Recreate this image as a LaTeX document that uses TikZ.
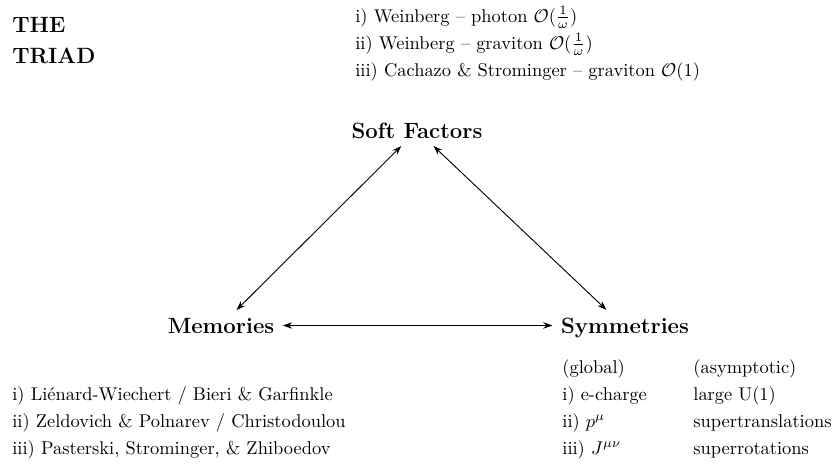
\documentclass[tikz,border=0pt]{standalone}
\usetikzlibrary{arrows.meta}
\begin{document}
\begin{tikzpicture}[x=0.5425pt,y=-0.5425pt,
  title/.style={font=\large\bfseries, inner sep=0pt, anchor=base west},
  vertex/.style={font=\large\bfseries, inner xsep=4.5pt, inner ysep=4pt, anchor=base},
  item/.style={inner sep=0pt, anchor=base west},
  link/.style={{Stealth[length=5pt,width=3.5pt]}-{Stealth[length=5pt,width=3.5pt]}, line width=0.5pt}]
\useasboundingbox (0,0) rectangle (832,463);
\node[title] (t1) at (12,32) {THE};
\node[title] (t2) at (12,63) {TRIAD};
\node[item] (s1) at (355,22) {i) Weinberg -- photon $\mathcal{O}(\frac{1}{\omega})$};
\node[item] (s2) at (355,49) {ii) Weinberg -- graviton $\mathcal{O}(\frac{1}{\omega})$};
\node[item] (s3) at (355,76) {iii) Cachazo \& Strominger -- graviton $\mathcal{O}(1)$};
\node[vertex] (sf) at (417,138) {Soft Factors};
\node[vertex] (mem) at (221,333) {Memories};
\node[vertex] (sym) at (625,333) {Symmetries};
\draw[link] (sf) -- (mem);
\draw[link] (sf) -- (sym);
\draw[link] (mem.east) -- (sym.west |- mem.east);
\node[item] (m1) at (12,400) {i) Li\'enard-Wiechert / Bieri \& Garfinkle};
\node[item] (m2) at (12,427) {ii) Zeldovich \& Polnarev / Christodoulou};
\node[item] (m3) at (12,454) {iii) Pasterski, Strominger, \& Zhiboedov};
\node[item] (g0) at (562,373) {(global)};
\node[item] (g1) at (562,400) {i) e-charge};
\node[item] (g2) at (562,427) {ii) $p^\mu$};
\node[item] (g3) at (562,454) {iii) $J^{\mu\nu}$};
\node[item] (a0) at (693,373) {(asymptotic)};
\node[item] (a1) at (693,400) {large U(1)};
\node[item] (a2) at (693,427) {supertranslations};
\node[item] (a3) at (693,454) {superrotations};
\end{tikzpicture}
\end{document}
